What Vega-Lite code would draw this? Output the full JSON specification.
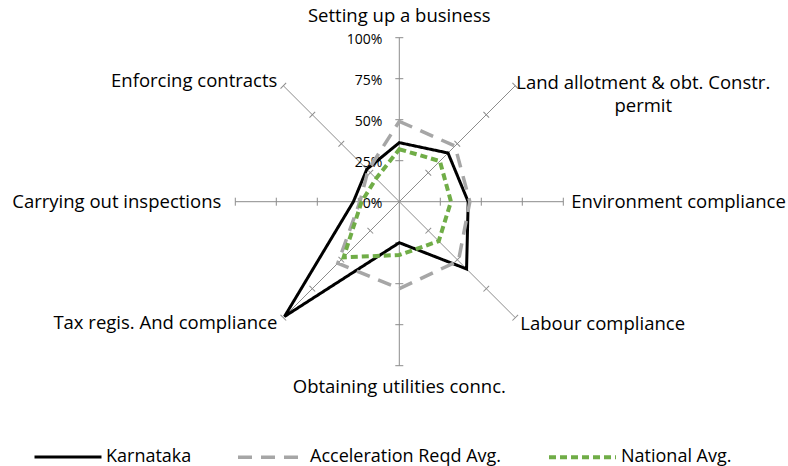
{
  "$schema": "https://vega.github.io/schema/vega-lite/v6.json",
  "width": 788,
  "height": 466,
  "padding": 0,
  "autosize": {"type": "none"},
  "background": "white",
  "config": {
    "view": {"stroke": null},
    "font": "Open Sans"
  },
  "datasets": {
    "categories": [
      {"category": "Setting up a business", "order": 0},
      {"category": "Land allotment & obt. Constr. permit", "order": 1},
      {"category": "Environment compliance", "order": 2},
      {"category": "Labour compliance", "order": 3},
      {"category": "Obtaining utilities connc.", "order": 4},
      {"category": "Tax regis. And compliance", "order": 5},
      {"category": "Carrying out inspections", "order": 6},
      {"category": "Enforcing contracts", "order": 7}
    ],
    "scores": [
      {"series": "Karnataka", "category": "Setting up a business", "value": 0.36},
      {"series": "Karnataka", "category": "Land allotment & obt. Constr. permit", "value": 0.42},
      {"series": "Karnataka", "category": "Environment compliance", "value": 0.42},
      {"series": "Karnataka", "category": "Labour compliance", "value": 0.58},
      {"series": "Karnataka", "category": "Obtaining utilities connc.", "value": 0.25},
      {"series": "Karnataka", "category": "Tax regis. And compliance", "value": 0.99},
      {"series": "Karnataka", "category": "Carrying out inspections", "value": 0.28},
      {"series": "Karnataka", "category": "Enforcing contracts", "value": 0.28},
      {"series": "Acceleration Reqd Avg.", "category": "Setting up a business", "value": 0.49},
      {"series": "Acceleration Reqd Avg.", "category": "Land allotment & obt. Constr. permit", "value": 0.48},
      {"series": "Acceleration Reqd Avg.", "category": "Environment compliance", "value": 0.43},
      {"series": "Acceleration Reqd Avg.", "category": "Labour compliance", "value": 0.51},
      {"series": "Acceleration Reqd Avg.", "category": "Obtaining utilities connc.", "value": 0.53},
      {"series": "Acceleration Reqd Avg.", "category": "Tax regis. And compliance", "value": 0.53},
      {"series": "Acceleration Reqd Avg.", "category": "Carrying out inspections", "value": 0.24},
      {"series": "Acceleration Reqd Avg.", "category": "Enforcing contracts", "value": 0.27},
      {"series": "National Avg.", "category": "Setting up a business", "value": 0.32},
      {"series": "National Avg.", "category": "Land allotment & obt. Constr. permit", "value": 0.35},
      {"series": "National Avg.", "category": "Environment compliance", "value": 0.315},
      {"series": "National Avg.", "category": "Labour compliance", "value": 0.34},
      {"series": "National Avg.", "category": "Obtaining utilities connc.", "value": 0.325},
      {"series": "National Avg.", "category": "Tax regis. And compliance", "value": 0.48},
      {"series": "National Avg.", "category": "Carrying out inspections", "value": 0.23},
      {"series": "National Avg.", "category": "Enforcing contracts", "value": 0.2}
    ],
    "levels": [
      {"level": 0}, {"level": 0.25}, {"level": 0.5}, {"level": 0.75}, {"level": 1}
    ],
    "ticks": [
      {"order": 0, "level": 0.25}, {"order": 0, "level": 0.5}, {"order": 0, "level": 0.75}, {"order": 0, "level": 1},
      {"order": 1, "level": 0.25}, {"order": 1, "level": 0.5}, {"order": 1, "level": 0.75}, {"order": 1, "level": 1},
      {"order": 2, "level": 0.25}, {"order": 2, "level": 0.5}, {"order": 2, "level": 0.75}, {"order": 2, "level": 1},
      {"order": 3, "level": 0.25}, {"order": 3, "level": 0.5}, {"order": 3, "level": 0.75}, {"order": 3, "level": 1},
      {"order": 4, "level": 0.25}, {"order": 4, "level": 0.5}, {"order": 4, "level": 0.75}, {"order": 4, "level": 1},
      {"order": 5, "level": 0.25}, {"order": 5, "level": 0.5}, {"order": 5, "level": 0.75}, {"order": 5, "level": 1},
      {"order": 6, "level": 0.25}, {"order": 6, "level": 0.5}, {"order": 6, "level": 0.75}, {"order": 6, "level": 1},
      {"order": 7, "level": 0.25}, {"order": 7, "level": 0.5}, {"order": 7, "level": 0.75}, {"order": 7, "level": 1}
    ]
  },
  "layer": [
    {
      "data": {"name": "categories"},
      "transform": [
        {"calculate": "sin(datum.order*PI/4)", "as": "x"},
        {"calculate": "cos(datum.order*PI/4)", "as": "y"}
      ],
      "mark": {"type": "rule", "color": "#8c8c8c", "strokeWidth": 1},
      "encoding": {
        "x": {"field": "x", "type": "quantitative", "axis": null, "scale": {"domain": [-2.4348, 2.3701], "nice": false, "zero": false}},
        "y": {"field": "y", "type": "quantitative", "axis": null, "scale": {"domain": [-1.6116, 1.2299], "nice": false, "zero": false}},
        "x2": {"datum": 0},
        "y2": {"datum": 0}
      }
    },
    {
      "data": {"name": "ticks"},
      "transform": [
        {"calculate": "datum.level*sin(datum.order*PI/4)", "as": "x"},
        {"calculate": "datum.level*cos(datum.order*PI/4)", "as": "y"},
        {"calculate": "datum.order*45", "as": "tickangle"}
      ],
      "mark": {"type": "point", "shape": "stroke", "size": 64, "filled": false, "stroke": "#8c8c8c", "strokeWidth": 1, "opacity": 1},
      "encoding": {
        "x": {"field": "x", "type": "quantitative", "axis": null, "scale": {"domain": [-2.4348, 2.3701], "nice": false, "zero": false}},
        "y": {"field": "y", "type": "quantitative", "axis": null, "scale": {"domain": [-1.6116, 1.2299], "nice": false, "zero": false}},
        "angle": {"field": "tickangle", "type": "quantitative", "scale": null}
      }
    },
    {
      "data": {"name": "levels"},
      "mark": {"type": "text", "align": "right", "baseline": "middle", "dx": -17, "dy": 2, "fontSize": 14, "font": "Open Sans", "color": "black"},
      "encoding": {
        "x": {"datum": 0, "type": "quantitative", "axis": null, "scale": {"domain": [-2.4348, 2.3701], "nice": false, "zero": false}},
        "y": {"field": "level", "type": "quantitative", "axis": null, "scale": {"domain": [-1.6116, 1.2299], "nice": false, "zero": false}},
        "text": {"field": "level", "type": "quantitative", "format": ".0%"}
      }
    },
    {
      "data": {"name": "scores"},
      "transform": [
        {"lookup": "category", "from": {"data": {"name": "categories"}, "key": "category", "fields": ["order"]}},
        {"calculate": "datum.value*sin(datum.order*PI/4)", "as": "x"},
        {"calculate": "datum.value*cos(datum.order*PI/4)", "as": "y"}
      ],
      "mark": {"type": "line", "interpolate": "linear-closed", "strokeJoin": "miter"},
      "encoding": {
        "x": {"field": "x", "type": "quantitative", "axis": null, "scale": {"domain": [-2.4348, 2.3701], "nice": false, "zero": false}},
        "y": {"field": "y", "type": "quantitative", "axis": null, "scale": {"domain": [-1.6116, 1.2299], "nice": false, "zero": false}},
        "order": {"field": "order", "type": "quantitative"},
        "color": {"field": "series", "type": "nominal", "title": null,
          "scale": {"domain": ["Karnataka", "Acceleration Reqd Avg.", "National Avg."], "range": ["#000000", "#a6a6a6", "#70ad47"]},
          "sort": ["Karnataka", "Acceleration Reqd Avg.", "National Avg."],
          "legend": {"orient": "none", "legendX": 33, "legendY": 421.5, "direction": "horizontal", "symbolType": "stroke", "symbolSize": 4489, "symbolStrokeWidth": 3.5, "labelFont": "Open Sans", "labelFontSize": 18, "labelColor": "black", "labelOffset": 3, "columnPadding": 39, "padding": 0, "labelLimit": 400, "title": null}},
        "strokeDash": {"field": "series", "type": "nominal", "title": null,
          "scale": {"domain": ["Karnataka", "Acceleration Reqd Avg.", "National Avg."], "range": [[1, 0], [14, 9], [7, 4]]},
          "sort": ["Karnataka", "Acceleration Reqd Avg.", "National Avg."],
          "legend": {"orient": "none", "legendX": 33, "legendY": 421.5, "direction": "horizontal", "symbolType": "stroke", "symbolSize": 4489, "symbolStrokeWidth": 3.5, "labelFont": "Open Sans", "labelFontSize": 18, "labelColor": "black", "labelOffset": 3, "columnPadding": 39, "padding": 0, "labelLimit": 400, "title": null}},
        "strokeWidth": {"field": "series", "type": "nominal", "legend": null,
          "scale": {"domain": ["Karnataka", "Acceleration Reqd Avg.", "National Avg."], "range": [3, 4, 3.5]}}
      }
    },
    {
      "data": {"name": "categories"},
      "transform": [{"filter": "datum.order == 0"}, {"calculate": "sin(datum.order*PI/4)", "as": "x"}, {"calculate": "cos(datum.order*PI/4)", "as": "y"}],
      "mark": {"type": "text", "align": "center", "baseline": "middle", "dy": -22, "fontSize": 18.5, "font": "Open Sans", "color": "black"},
      "encoding": {
        "x": {"field": "x", "type": "quantitative", "axis": null, "scale": {"domain": [-2.4348, 2.3701], "nice": false, "zero": false}},
        "y": {"field": "y", "type": "quantitative", "axis": null, "scale": {"domain": [-1.6116, 1.2299], "nice": false, "zero": false}},
        "text": {"field": "category"}
      }
    },
    {
      "data": {"name": "categories"},
      "transform": [{"filter": "datum.order == 1"}, {"calculate": "sin(datum.order*PI/4)", "as": "x"}, {"calculate": "cos(datum.order*PI/4)", "as": "y"}],
      "mark": {"type": "text", "align": "center", "baseline": "middle", "dx": 128, "dy": -2.5, "fontSize": 18.5, "lineHeight": 23, "font": "Open Sans", "color": "black"},
      "encoding": {
        "x": {"field": "x", "type": "quantitative", "axis": null, "scale": {"domain": [-2.4348, 2.3701], "nice": false, "zero": false}},
        "y": {"field": "y", "type": "quantitative", "axis": null, "scale": {"domain": [-1.6116, 1.2299], "nice": false, "zero": false}},
        "text": {"value": ["Land allotment & obt. Constr.", "permit"]}
      }
    },
    {
      "data": {"name": "categories"},
      "transform": [{"filter": "datum.order == 2"}, {"calculate": "sin(datum.order*PI/4)", "as": "x"}, {"calculate": "cos(datum.order*PI/4)", "as": "y"}],
      "mark": {"type": "text", "align": "left", "baseline": "middle", "dx": 8, "fontSize": 18.5, "font": "Open Sans", "color": "black"},
      "encoding": {
        "x": {"field": "x", "type": "quantitative", "axis": null, "scale": {"domain": [-2.4348, 2.3701], "nice": false, "zero": false}},
        "y": {"field": "y", "type": "quantitative", "axis": null, "scale": {"domain": [-1.6116, 1.2299], "nice": false, "zero": false}},
        "text": {"field": "category"}
      }
    },
    {
      "data": {"name": "categories"},
      "transform": [{"filter": "datum.order == 3"}, {"calculate": "sin(datum.order*PI/4)", "as": "x"}, {"calculate": "cos(datum.order*PI/4)", "as": "y"}],
      "mark": {"type": "text", "align": "left", "baseline": "middle", "dx": 5, "dy": 6, "fontSize": 18.5, "font": "Open Sans", "color": "black"},
      "encoding": {
        "x": {"field": "x", "type": "quantitative", "axis": null, "scale": {"domain": [-2.4348, 2.3701], "nice": false, "zero": false}},
        "y": {"field": "y", "type": "quantitative", "axis": null, "scale": {"domain": [-1.6116, 1.2299], "nice": false, "zero": false}},
        "text": {"field": "category"}
      }
    },
    {
      "data": {"name": "categories"},
      "transform": [{"filter": "datum.order == 4"}, {"calculate": "sin(datum.order*PI/4)", "as": "x"}, {"calculate": "cos(datum.order*PI/4)", "as": "y"}],
      "mark": {"type": "text", "align": "center", "baseline": "middle", "dy": 21, "fontSize": 18.5, "font": "Open Sans", "color": "black"},
      "encoding": {
        "x": {"field": "x", "type": "quantitative", "axis": null, "scale": {"domain": [-2.4348, 2.3701], "nice": false, "zero": false}},
        "y": {"field": "y", "type": "quantitative", "axis": null, "scale": {"domain": [-1.6116, 1.2299], "nice": false, "zero": false}},
        "text": {"field": "category"}
      }
    },
    {
      "data": {"name": "categories"},
      "transform": [{"filter": "datum.order == 5"}, {"calculate": "sin(datum.order*PI/4)", "as": "x"}, {"calculate": "cos(datum.order*PI/4)", "as": "y"}],
      "mark": {"type": "text", "align": "right", "baseline": "middle", "dx": -6, "dy": 5, "fontSize": 18.5, "font": "Open Sans", "color": "black"},
      "encoding": {
        "x": {"field": "x", "type": "quantitative", "axis": null, "scale": {"domain": [-2.4348, 2.3701], "nice": false, "zero": false}},
        "y": {"field": "y", "type": "quantitative", "axis": null, "scale": {"domain": [-1.6116, 1.2299], "nice": false, "zero": false}},
        "text": {"field": "category"}
      }
    },
    {
      "data": {"name": "categories"},
      "transform": [{"filter": "datum.order == 6"}, {"calculate": "sin(datum.order*PI/4)", "as": "x"}, {"calculate": "cos(datum.order*PI/4)", "as": "y"}],
      "mark": {"type": "text", "align": "right", "baseline": "middle", "dx": -14, "fontSize": 18.5, "font": "Open Sans", "color": "black"},
      "encoding": {
        "x": {"field": "x", "type": "quantitative", "axis": null, "scale": {"domain": [-2.4348, 2.3701], "nice": false, "zero": false}},
        "y": {"field": "y", "type": "quantitative", "axis": null, "scale": {"domain": [-1.6116, 1.2299], "nice": false, "zero": false}},
        "text": {"field": "category"}
      }
    },
    {
      "data": {"name": "categories"},
      "transform": [{"filter": "datum.order == 7"}, {"calculate": "sin(datum.order*PI/4)", "as": "x"}, {"calculate": "cos(datum.order*PI/4)", "as": "y"}],
      "mark": {"type": "text", "align": "right", "baseline": "middle", "dx": -6, "dy": -5, "fontSize": 18.5, "font": "Open Sans", "color": "black"},
      "encoding": {
        "x": {"field": "x", "type": "quantitative", "axis": null, "scale": {"domain": [-2.4348, 2.3701], "nice": false, "zero": false}},
        "y": {"field": "y", "type": "quantitative", "axis": null, "scale": {"domain": [-1.6116, 1.2299], "nice": false, "zero": false}},
        "text": {"field": "category"}
      }
    }
  ]
}
